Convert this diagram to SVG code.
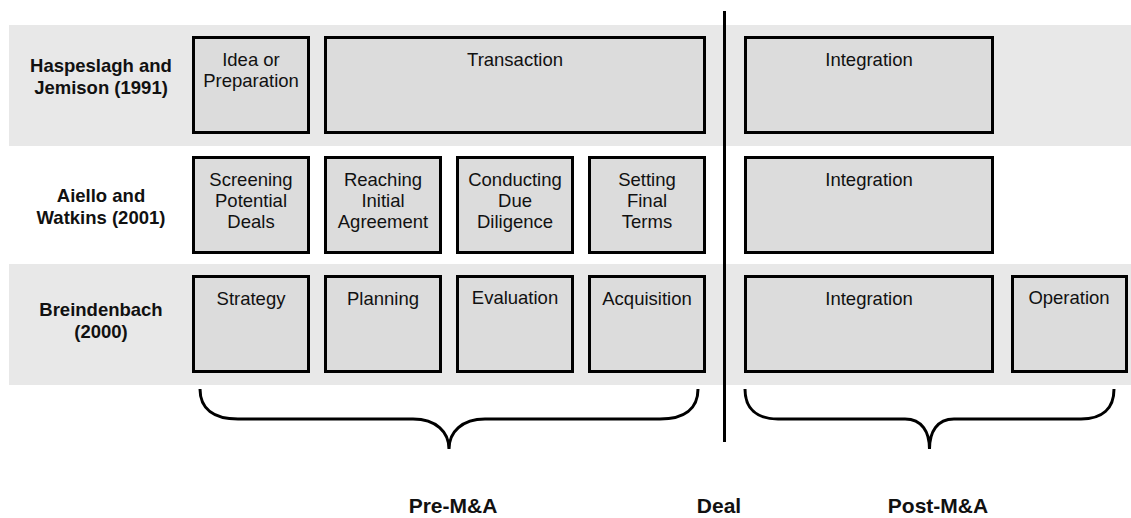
<svg xmlns="http://www.w3.org/2000/svg" width="1131" height="518" viewBox="0 0 1131 518">
<style>
.band{fill:#e8e8e8}
.box{fill:#dcdcdc;stroke:#000;stroke-width:3}
.bt{font-family:"Liberation Sans",Arial,sans-serif;font-size:18.5px;fill:#111;text-anchor:middle}
.rl{font-family:"Liberation Sans",Arial,sans-serif;font-size:18.5px;font-weight:bold;fill:#111;text-anchor:middle}
.bl{font-family:"Liberation Sans",Arial,sans-serif;font-size:21px;font-weight:bold;fill:#111;text-anchor:middle}
.ln{fill:none;stroke:#000;stroke-width:3}
</style>
<rect width="1131" height="518" fill="#fff"/>
<g id="bands">
<rect class="band" x="9" y="25" width="1122" height="121"/>
<rect class="band" x="9" y="264" width="1122" height="121"/>
</g>
<g id="row-labels">
<text class="rl" x="101" y="72">Haspeslagh and</text>
<text class="rl" x="101" y="94">Jemison (1991)</text>
<text class="rl" x="101" y="202">Aiello and</text>
<text class="rl" x="101" y="224">Watkins (2001)</text>
<text class="rl" x="101" y="316">Breindenbach</text>
<text class="rl" x="101" y="338">(2000)</text>
</g>
<g id="r1-idea"><rect class="box" x="193.5" y="37.5" width="115" height="95"/><text class="bt" x="251" y="66">Idea or</text><text class="bt" x="251" y="87">Preparation</text></g>
<g id="r1-transaction"><rect class="box" x="325.5" y="37.5" width="379" height="95"/><text class="bt" x="515" y="66">Transaction</text></g>
<g id="r1-integration"><rect class="box" x="745.5" y="37.5" width="247" height="95"/><text class="bt" x="869" y="66">Integration</text></g>
<g id="r2-screening"><rect class="box" x="193.5" y="157.5" width="115" height="95"/><text class="bt" x="251" y="186">Screening</text><text class="bt" x="251" y="207">Potential</text><text class="bt" x="251" y="228">Deals</text></g>
<g id="r2-reaching"><rect class="box" x="325.5" y="157.5" width="115" height="95"/><text class="bt" x="383" y="186">Reaching</text><text class="bt" x="383" y="207">Initial</text><text class="bt" x="383" y="228">Agreement</text></g>
<g id="r2-conducting"><rect class="box" x="457.5" y="157.5" width="115" height="95"/><text class="bt" x="515" y="186">Conducting</text><text class="bt" x="515" y="207">Due</text><text class="bt" x="515" y="228">Diligence</text></g>
<g id="r2-setting"><rect class="box" x="589.5" y="157.5" width="115" height="95"/><text class="bt" x="647" y="186">Setting</text><text class="bt" x="647" y="207">Final</text><text class="bt" x="647" y="228">Terms</text></g>
<g id="r2-integration"><rect class="box" x="745.5" y="157.5" width="247" height="95"/><text class="bt" x="869" y="186">Integration</text></g>
<g id="r3-strategy"><rect class="box" x="193.5" y="276.5" width="115" height="95"/><text class="bt" x="251" y="305">Strategy</text></g>
<g id="r3-planning"><rect class="box" x="325.5" y="276.5" width="115" height="95"/><text class="bt" x="383" y="305">Planning</text></g>
<g id="r3-evaluation"><rect class="box" x="457.5" y="276.5" width="115" height="95"/><text class="bt" x="515" y="304">Evaluation</text></g>
<g id="r3-acquisition"><rect class="box" x="589.5" y="276.5" width="115" height="95"/><text class="bt" x="647" y="305">Acquisition</text></g>
<g id="r3-integration"><rect class="box" x="745.5" y="276.5" width="247" height="95"/><text class="bt" x="869" y="305">Integration</text></g>
<g id="r3-operation"><rect class="box" x="1012.5" y="276.5" width="114" height="95"/><text class="bt" x="1069" y="304">Operation</text></g>
<g id="connectors">
<line class="ln" x1="724.5" y1="11" x2="724.5" y2="442"/>
<path class="ln" d="M200,389 C200,409 214,419 238,419 L413,419 C436,419 449,432 449,449 C449,432 462,419 485,419 L660,419 C684,419 698,409 698,389"/>
<path class="ln" d="M745,389 C745,409 757,419 778,419 L905,419 C922,419 929.5,432 929.5,449 C929.5,432 937,419 954,419 L1081,419 C1102,419 1114,409 1114,389"/>
</g>
<g id="phase-labels">
<text class="bl" x="453" y="513">Pre-M&amp;A</text>
<text class="bl" x="719" y="513">Deal</text>
<text class="bl" x="938" y="513">Post-M&amp;A</text>
</g>
</svg>
